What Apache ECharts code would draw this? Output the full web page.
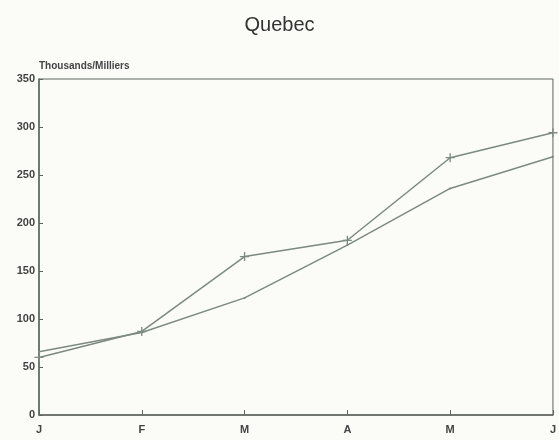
<!DOCTYPE html>
<html>
<head>
    <meta charset="utf-8">
    <title>Quebec</title>
    <script src="https://cdn.jsdelivr.net/npm/echarts@6/dist/echarts.min.js"></script>
    <style>
        html, body { margin: 0; padding: 0; background: #fbfbf8; }
        #chart1 { width: 559px; height: 440px; }
    </style>
</head>
<body>
<div id="chart1"></div>
<script>
    // months along the bottom
    var months = ['J', 'F', 'M', 'A', 'M', 'J'];
    // line with crosses
    var crossLine = [60, 87, 165, 182, 268, 294];
    // plain line
    var plainLine = [66, 86, 122, 177, 236, 269];
    var yTicks = [0, 50, 100, 150, 200, 250, 300, 350];

    var lineColor = '#7d8a7f';
    var axisColor = '#5f665f';

    var chart = echarts.init(document.getElementById('chart1'));
    chart.setOption({
        backgroundColor: '#fbfbf8',
        animation: false,
        title: {
            text: 'Quebec',
            left: 'center',
            top: 10,
            textStyle: { fontFamily: 'Liberation Sans', fontSize: 20, fontWeight: 'normal', color: '#333' }
        },
        grid: { left: 39, right: 3, top: 79, bottom: 25, show: true, borderColor: axisColor, borderWidth: 1 },
        xAxis: {
            type: 'category',
            data: months,
            boundaryGap: false,
            axisLine: { lineStyle: { color: axisColor, width: 1.5 } },
            axisTick: { inside: true, length: 5, lineStyle: { color: axisColor } },
            axisLabel: { color: '#444', fontFamily: 'Liberation Sans', fontWeight: 'bold', fontSize: 11, margin: 9 },
            splitLine: { show: false }
        },
        yAxis: {
            type: 'value',
            min: 0,
            max: 350,
            interval: 50,
            name: 'Thousands/Milliers',
            nameLocation: 'end',
            nameGap: 8,
            nameTextStyle: { align: 'left', color: '#444', fontFamily: 'Liberation Sans', fontWeight: 'bold', fontSize: 10, padding: [0, 0, 0, 0] },
            axisLine: { show: true, lineStyle: { color: axisColor, width: 1.5 } },
            axisTick: { show: true, inside: true, length: 4, lineStyle: { color: axisColor } },
            axisLabel: {
                color: '#444', fontFamily: 'Liberation Sans', fontWeight: 'bold', fontSize: 11, margin: 4,
                formatter: function (v) { return yTicks.indexOf(v) >= 0 ? String(v) : ''; }
            },
            splitLine: { show: false }
        },
        series: [{
            name: 'cross',
            type: 'line',
            data: crossLine,
            symbol: 'path://M0,5L10,5M5,0L5,10',
            symbolSize: 9,
            showSymbol: true,
            itemStyle: { color: 'none', borderColor: lineColor, borderWidth: 1.3 },
            lineStyle: { color: lineColor, width: 1.5 }
        }, {
            name: 'plain',
            type: 'line',
            data: plainLine,
            symbol: 'circle',
            symbolSize: 2,
            itemStyle: { color: lineColor },
            lineStyle: { color: lineColor, width: 1.5 }
        }]
    });
</script>
</body>
</html>
